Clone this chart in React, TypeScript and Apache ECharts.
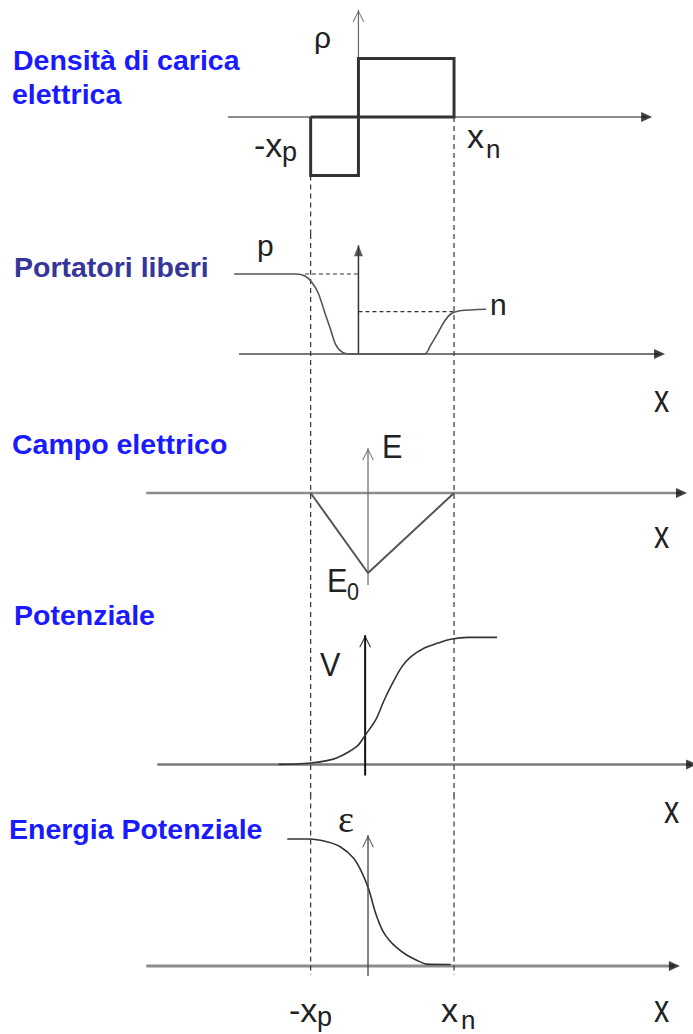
import React, { useEffect, useRef } from "react";
import * as echarts from "echarts";

// ---------- data (x in units of x_p, junction at 0: -x_p = -1, x_n = 2) ----------
const XP = -1;
const XN = 2;

// charge density rho(x)
const chargePosX = [0, 0, 2, 2, 0];
const chargePosY = [0, 1, 1, 0, 0];
const chargeNegX = [-1, -1, 0, 0, -1];
const chargeNegY = [0, -1, -1, 0, 0];

// free carriers p(x) ... n(x)
const carrierX = [-2.6, -1.3, -1.12, -0.98, -0.84, -0.7, -0.58, -0.47, -0.33, -0.1, 1.38, 1.51, 1.66, 1.79, 1.93, 2.12, 2.67];
const carrierY = [1, 1, 0.975, 0.9, 0.76, 0.51, 0.3, 0.11, 0.02, 0, 0, 0.11, 0.26, 0.4, 0.5, 0.54, 0.56];
const pLevel = 1;
const nLevel = 0.53;
const pGuideStart = -1.12;

// electric field E(x)
const fieldX = [-1, 0.2, 2];
const fieldY = [0, -1, 0];

// potential V(x)
const potentialX = [-1.67, -1.03, -0.66, -0.47, -0.2, -0.01, 0.13, 0.36, 0.54, 0.73, 0.91, 1.1, 1.38, 1.66, 1.93, 2.3, 2.9];
const potentialY = [0, 0.009, 0.03, 0.048, 0.1, 0.15, 0.224, 0.35, 0.507, 0.651, 0.77, 0.849, 0.916, 0.955, 0.986, 1.0, 1.0];

// potential energy eps(x)
const energyX = [-1.49, -1.03, -0.66, -0.38, -0.1, 0.08, 0.22, 0.36, 0.5, 0.64, 0.82, 1.01, 1.24, 1.42, 1.93];
const energyY = [1, 1, 0.979, 0.939, 0.848, 0.73, 0.598, 0.415, 0.283, 0.205, 0.139, 0.087, 0.042, 0.015, 0.012];

// axes of each panel (x units / panel y units)
const hAxisStart = [-2.73, -2.5, -4.44, -4.21, -4.44];
const hAxisEnd = [6.03, 6.3, 6.76, 6.97, 6.61];
const vAxisX = [0, 0, 0.2, 0.14, 0.2];
const vAxisStart = [0, 0, -1.15, -0.087, -0.079];
const vAxisEnd = [1.83, 1.36, 0.56, 1.016, 1.03];
const dashFromP = [-1, 1.5, 1.0, 1.2, 1.35];
const dashFromN = [0, 1.5, 1.0, 1.2, 1.35];
const dashTo = [-2, -0.75, -1.45, -0.24, -0.07];

const titles = ["Densità di carica", "elettrica", "Portatori liberi", "Campo elettrico", "Potenziale", "Energia Potenziale"];

// ---------- layout ----------
const W = 693;
const H = 1034;
const X_MIN = -7.5;
const X_MAX = 7.0;
const panels = [
  { top: 0, height: 234, min: -2, max: 2 },
  { top: 234, height: 180, min: -0.75, max: 1.5 },
  { top: 413, height: 196, min: -1.45, max: 1 },
  { top: 612, height: 190.5, min: -0.3, max: 1.2 },
  { top: 794.55, height: 234.95, min: -0.5, max: 1.35 },
];
const hAxisColor = ["#8c8c8c", "#4a4a4a", "#8c8c8c", "#7a7a7a", "#8c8c8c"];
const hAxisWidth = [2, 1.5, 2.5, 2.5, 3];
const vAxisColor = ["#666666", "#333333", "#666666", "#111111", "#444444"];
const vAxisWidth = [1.2, 1.5, 1.2, 2, 1.3];

const CHEVRON = "path://M5,0 L10,10 L8.9,10 L5,2.2 L1.1,10 L0,10 Z";

const zip = (xs: number[], ys: number[]) => xs.map((x, i) => [x, ys[i]]);

function seg(p: number, data: number[][], lineStyle: any, extra: any = {}) {
  return {
    type: "line",
    xAxisIndex: p,
    yAxisIndex: p,
    data,
    showSymbol: false,
    symbol: "none",
    silent: true,
    lineStyle,
    z: 2,
    ...extra,
  };
}

function buildOption() {
  const grid = panels.map((p) => ({ left: 0, width: W, top: p.top, height: p.height, containLabel: false }));
  const xAxis = panels.map((_, i) => ({ type: "value", gridIndex: i, min: X_MIN, max: X_MAX, show: false }));
  const yAxis = panels.map((p, i) => ({ type: "value", gridIndex: i, min: p.min, max: p.max, show: false }));
  const series: any[] = [];
  const dash = { color: "#333", width: 1.2, type: [5, 4] };

  panels.forEach((_, i) => {
    series.push(seg(i, [[hAxisStart[i], 0], [hAxisEnd[i], 0]], { color: hAxisColor[i], width: hAxisWidth[i] }, { z: 1 }));
    series.push(seg(i, [[vAxisX[i], vAxisStart[i]], [vAxisX[i], vAxisEnd[i]]], { color: vAxisColor[i], width: vAxisWidth[i] }, { z: 1 }));
    series.push(seg(i, [[XP, dashFromP[i]], [XP, dashTo[i]]], dash, { z: 1 }));
    series.push(seg(i, [[XN, dashFromN[i]], [XN, dashTo[i]]], dash, { z: 1 }));
    series.push({
      type: "scatter",
      xAxisIndex: i,
      yAxisIndex: i,
      data: [[hAxisEnd[i], 0]],
      symbol: "triangle",
      symbolSize: [10, 11],
      symbolRotate: -90,
      itemStyle: { color: "#111" },
      silent: true,
      clip: false,
      z: 3,
    });
    series.push({
      type: "scatter",
      xAxisIndex: i,
      yAxisIndex: i,
      data: [[vAxisX[i], vAxisEnd[i]]],
      symbol: i === 1 ? "triangle" : CHEVRON,
      symbolSize: i === 1 ? [9, 11] : [12, 12],
      symbolOffset: [0, "50%"],
      itemStyle: { color: vAxisColor[i] },
      silent: true,
      clip: false,
      z: 3,
    });
  });

  const thick = { color: "#333", width: 3, join: "miter" };
  series.push(seg(0, zip(chargePosX, chargePosY), thick, { z: 4 }));
  series.push(seg(0, zip(chargeNegX, chargeNegY), thick, { z: 4 }));

  series.push(seg(1, zip(carrierX, carrierY), { color: "#555", width: 1.6 }, { smooth: 0.3, z: 4 }));
  series.push(seg(1, [[pGuideStart, pLevel], [0, pLevel]], { color: "#333", width: 1.2, type: [4, 3] }));
  series.push(seg(1, [[0, nLevel], [XN, nLevel]], { color: "#333", width: 1.2, type: [4, 3] }));

  series.push(seg(2, zip(fieldX, fieldY), { color: "#555", width: 2 }, { z: 4 }));

  series.push(seg(3, zip(potentialX, potentialY), { color: "#333", width: 1.6 }, { smooth: 0.3, z: 4 }));

  series.push(seg(4, zip(energyX, energyY), { color: "#333", width: 1.6 }, { smooth: 0.3, z: 4 }));

  const sans = "'Liberation Sans', Arial, Helvetica, sans-serif";
  const txt = (text: string, x: number, y: number, size: number, extra: any = {}, scaleX = 1) => ({
    type: "text",
    x,
    y,
    scaleX,
    silent: true,
    z: 10,
    style: {
      text,
      fontSize: size,
      fontFamily: sans,
      fill: "#222",
      align: "left",
      verticalAlign: "middle",
      textAlign: "left",
      textVerticalAlign: "middle",
      ...extra,
    },
  });
  const blue = { fill: "#1a1aff", fontWeight: "bold" };

  const graphic = [
    txt(titles[0], 13, 60, 28.5, blue),
    txt(titles[1], 12, 94, 28.5, blue),
    txt(titles[2], 14, 267, 28.5, { fill: "#35359a", fontWeight: "bold" }),
    txt(titles[3], 12, 444, 28.5, blue),
    txt(titles[4], 14, 615, 28.5, blue),
    txt(titles[5], 9, 829, 28.5, blue),
    // panel 1
    txt("ρ", 314, 37, 30),
    txt("-x", 254, 145, 34),
    txt("p", 282, 151.6, 27),
    txt("x", 467, 136, 34),
    txt("n", 486, 149, 26),
    // panel 2
    txt("p", 257, 245, 30),
    txt("n", 490, 304.6, 30),
    txt("x", 654, 399, 38, {}, 0.8),
    // panel 3
    txt("E", 382, 446, 34, {}, 0.9),
    txt("E", 327, 580, 34, {}, 0.9),
    txt("0", 347, 591.5, 24, {}, 0.9),
    txt("x", 654, 535, 38, {}, 0.8),
    // panel 4
    txt("V", 320, 664.5, 34, {}, 0.9),
    txt("x", 664, 810, 38, {}, 0.8),
    // panel 5
    txt("ε", 338, 819, 38, { fontFamily: "'Liberation Serif', 'Times New Roman', serif" }),
    txt("-x", 289, 1010, 34),
    txt("p", 317, 1016.5, 27),
    txt("x", 441, 1010, 34),
    txt("n", 461, 1019.5, 26),
    txt("x", 654, 1009, 38, {}, 0.8),
  ];

  return {
    animation: false,
    backgroundColor: "#ffffff",
    grid,
    xAxis,
    yAxis,
    series,
    graphic,
  };
}

export default function App() {
  const ref = useRef<HTMLDivElement>(null);
  useEffect(() => {
    if (!ref.current) return;
    const chart = echarts.init(ref.current, undefined, { renderer: "svg" });
    chart.setOption(buildOption() as any);
    return () => chart.dispose();
  }, []);
  return (
    <div
      ref={ref}
      style={{ position: "absolute", left: 0, top: 0, width: W, height: H, background: "#fff" }}
    />
  );
}
